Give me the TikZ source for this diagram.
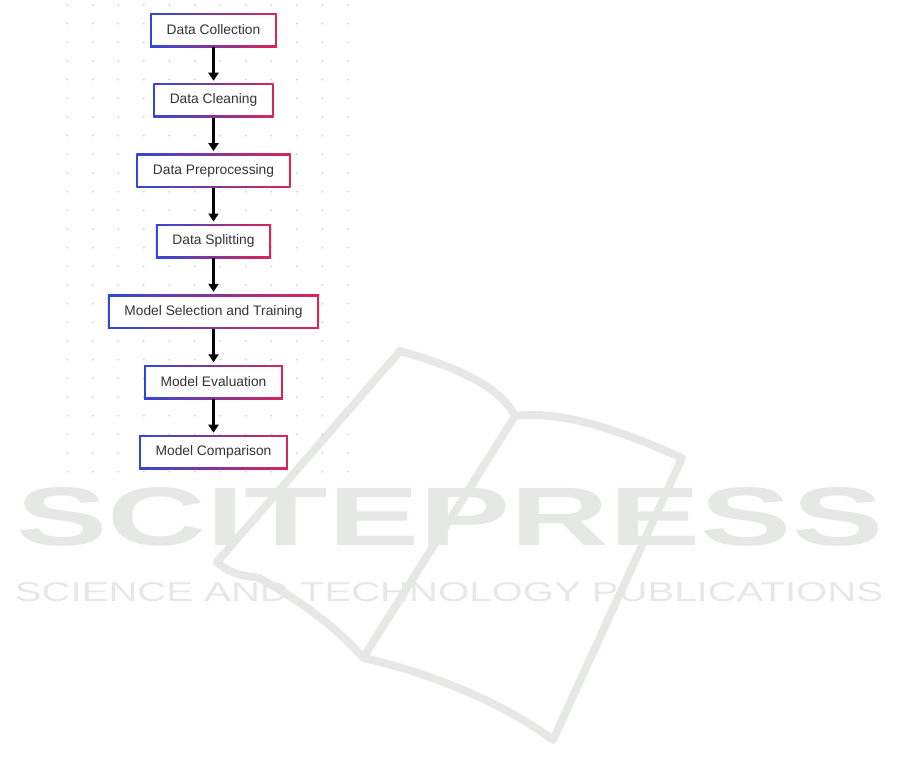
\documentclass[tikz,border=0pt]{standalone}
\usepackage{graphicx}
\usepackage{fontspec}
\setmainfont{Liberation Sans}
\usetikzlibrary{positioning,arrows.meta,calc}
\definecolor{stageblue}{HTML}{3048D8}
\definecolor{stagered}{HTML}{DC2458}
\definecolor{stagetext}{HTML}{333333}
\definecolor{dotgray}{HTML}{D2D2D2}
\definecolor{markgray}{HTML}{E6E8E6}
\tikzset{x=1pt,y=-1pt}

\begin{document}
\begin{tikzpicture}[
    stage/.style={rectangle, minimum height=34pt, inner xsep=16.5pt, inner ysep=0pt,
        left color=stageblue, right color=stagered, text=stagetext,
        font=\fontsize{13.8}{16}\selectfont,
        path picture={\fill[white] let \p1=(path picture bounding box.south west),
                \p2=(path picture bounding box.north east) in
            ({min(\x1,\x2)+2pt},{min(\y1,\y2)+2pt}) rectangle ({max(\x1,\x2)-2pt},{max(\y1,\y2)-2pt});}},
    flow/.style={-{Triangle[width=10pt,length=8pt]}, line width=2.2pt, shorten >=2.5pt},
    watermark/.style={inner sep=0pt, text=markgray},
    bookline/.style={draw=markgray, line width=8pt, line join=round}
]
    \useasboundingbox (0,0) rectangle (901,777);
    % publisher watermark
    \node[watermark] (sci) at (450,517) {\resizebox{866pt}{58pt}{\bfseries SCITEPRESS}};
    \node[watermark] (pub) at (449,592.5) {\resizebox{868pt}{19pt}{SCIENCE AND TECHNOLOGY PUBLICATIONS}};
    \draw[bookline] (257,577) .. controls (240,577) and (225,570) .. (217,562)
        -- (400,351) .. controls (450,365) and (500,385) .. (515,416)
        .. controls (560,410) and (620,430) .. (682,458)
        -- (553,740) .. controls (500,700) and (420,670) .. (363,658)
        .. controls (340,630) and (300,600) .. (257,577);
    \draw[bookline] (515,416) -- (363,658);
    % dot grid
    \foreach \i in {0,...,11}
        \foreach \j in {0,...,25}
            \fill[dotgray] (67.3+25.5*\i,5+18.67*\j) circle (1pt);
    % pipeline
    \node[stage] (collect) at (213.5,30) {Data Collection};
    \node[stage, below=36pt of collect] (clean) {Data Cleaning};
    \node[stage, below=36pt of clean] (prep) {Data Preprocessing};
    \node[stage, below=36pt of prep] (split) {Data Splitting};
    \node[stage, below=36pt of split] (train) {Model Selection and Training};
    \node[stage, below=36pt of train] (eval) {Model Evaluation};
    \node[stage, below=36pt of eval] (compare) {Model Comparison};
    \draw[flow] (collect) -- (clean);
    \draw[flow] (clean) -- (prep);
    \draw[flow] (prep) -- (split);
    \draw[flow] (split) -- (train);
    \draw[flow] (train) -- (eval);
    \draw[flow] (eval) -- (compare);
\end{tikzpicture}
\end{document}
